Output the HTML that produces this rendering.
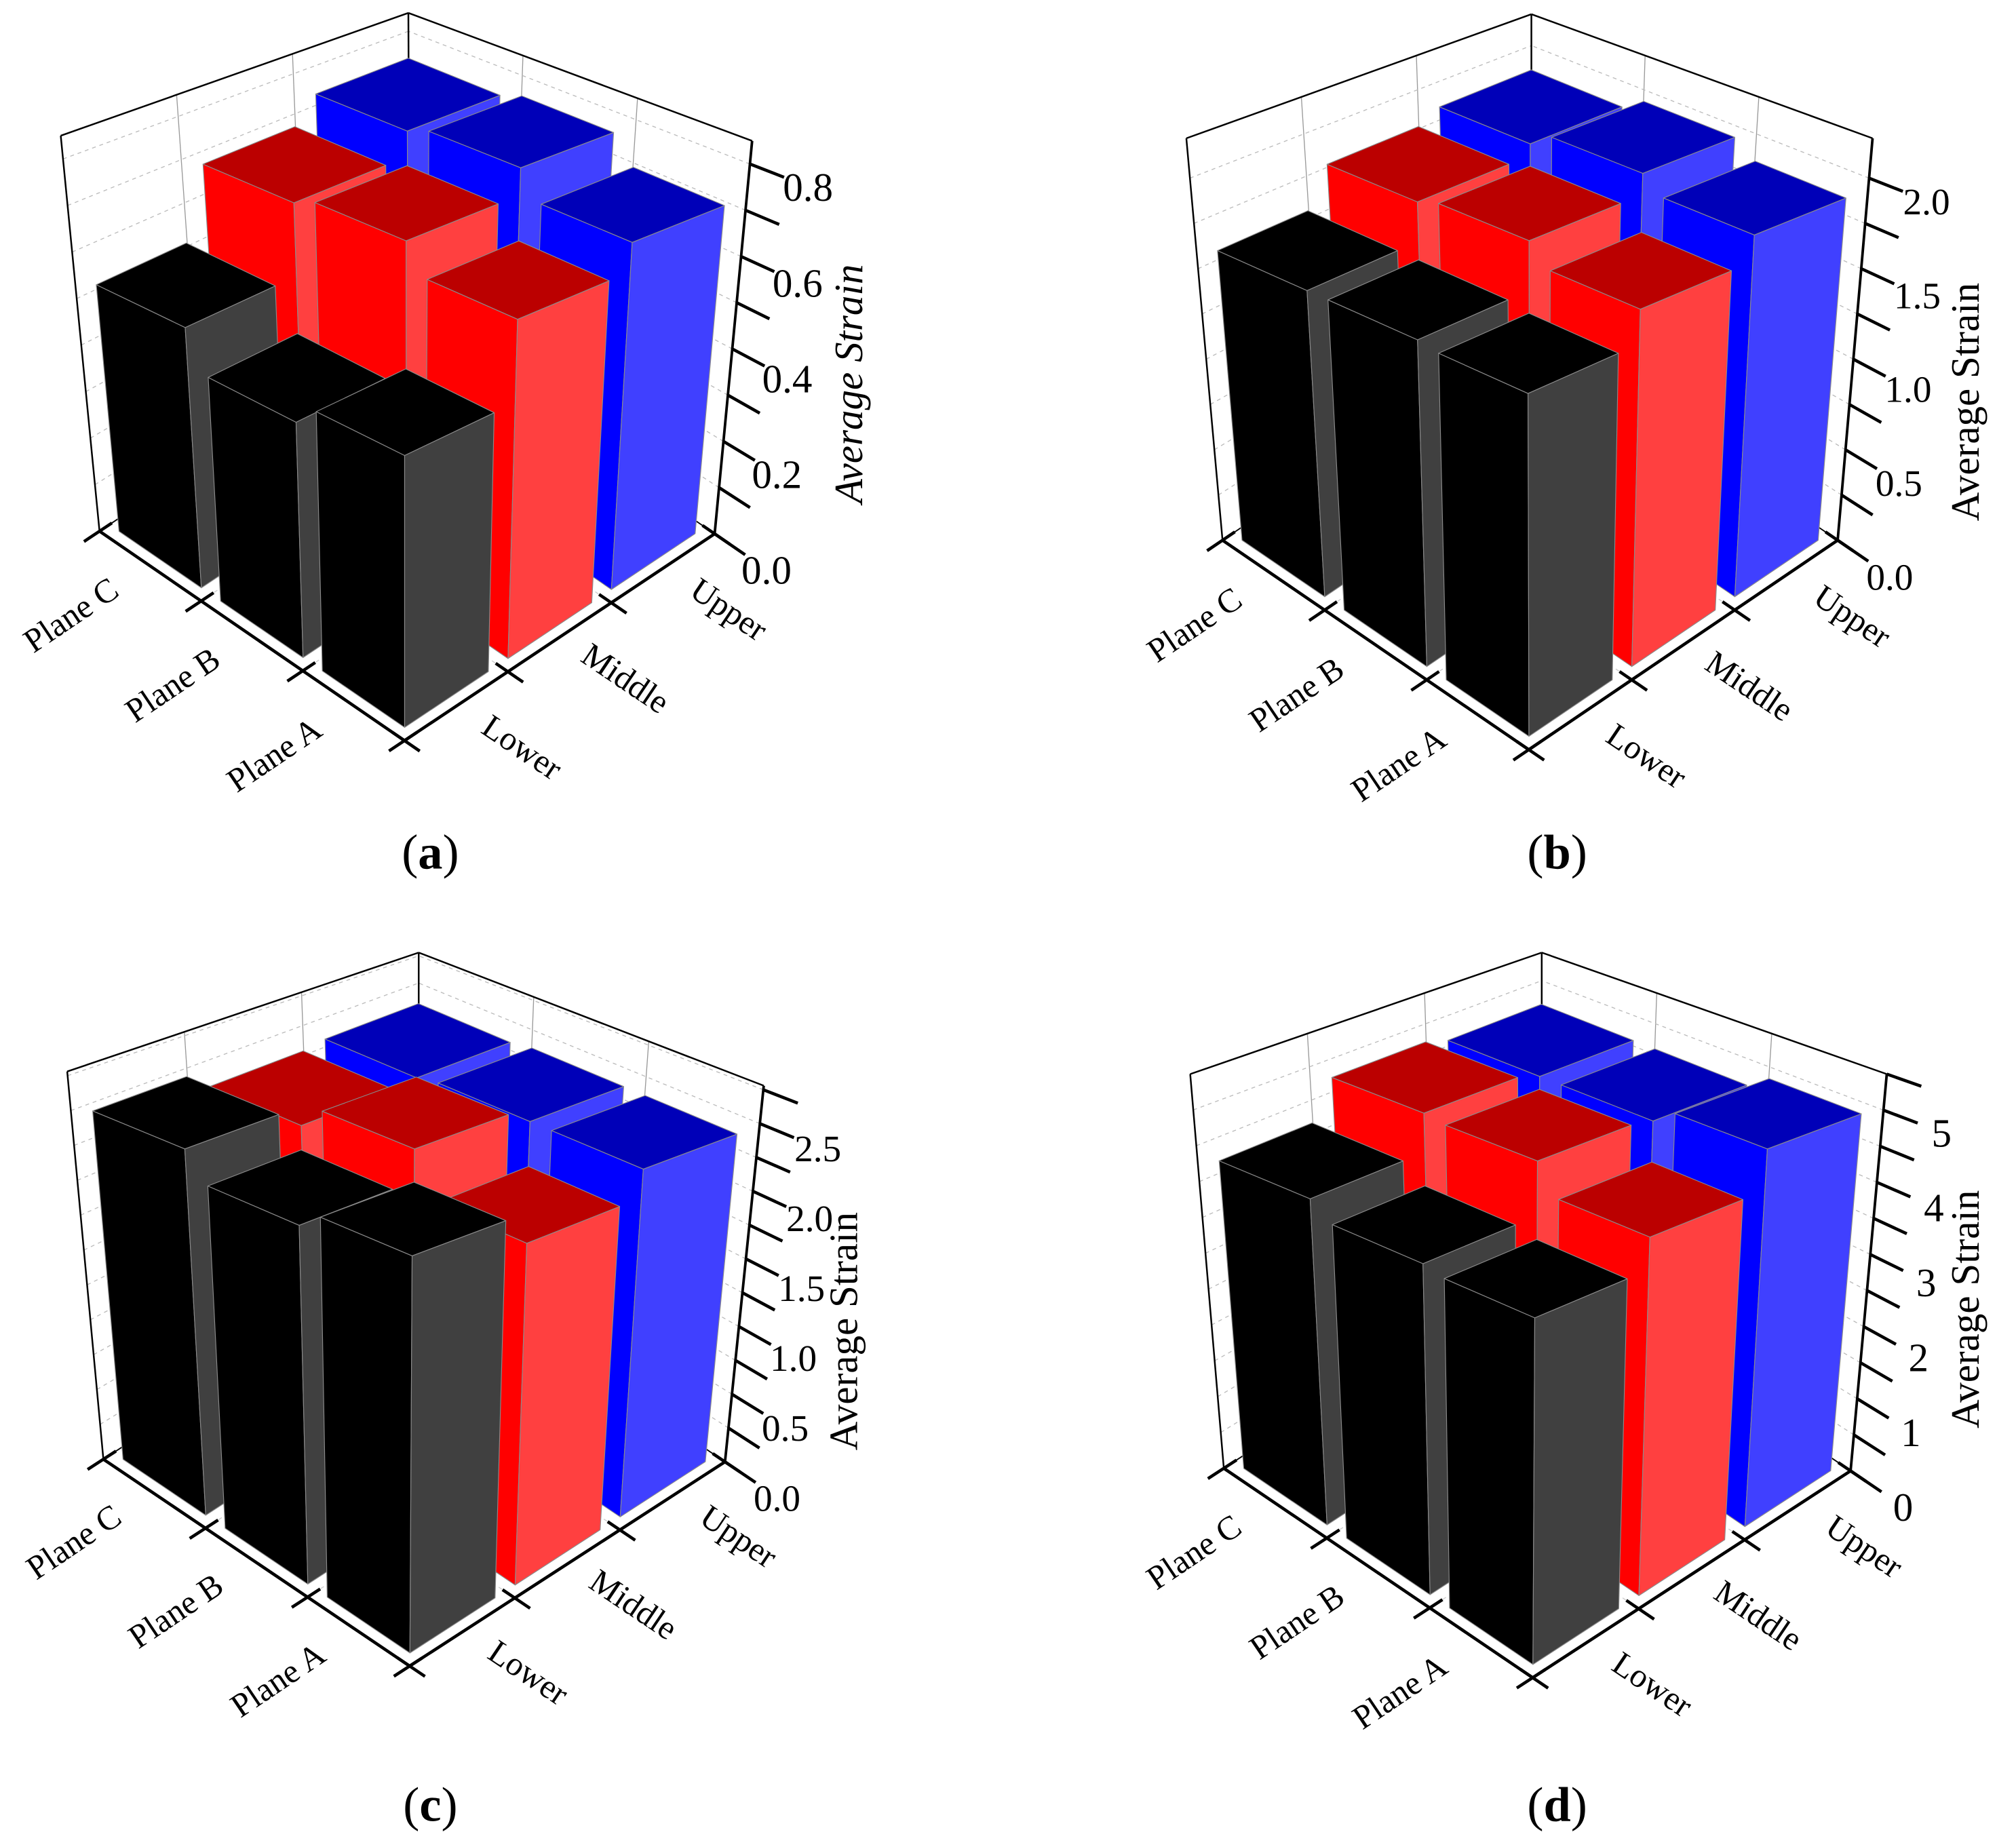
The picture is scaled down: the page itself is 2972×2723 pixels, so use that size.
<!DOCTYPE html>
<html><head><meta charset="utf-8"><style>
html,body{margin:0;padding:0;background:#fff;}
svg{display:block;}
text{font-family:"Liberation Serif",serif;}
</style></head><body>
<svg id="fig" xmlns="http://www.w3.org/2000/svg" width="2972" height="2723" viewBox="0 0 1560 1429" preserveAspectRatio="none">
<rect width="1560" height="1429" fill="#fff"/>
</svg>
<script>
// ---- data ----
const planes = ["Plane A", "Plane B", "Plane C"];
const positions = ["Lower", "Middle", "Upper"];
const panelIds = ["a", "b", "c", "d"];
const valuesA_Lower = [0.49, 0.45, 0.53];
const valuesA_Middle = [0.65, 0.71, 0.69];
const valuesA_Upper = [0.71, 0.77, 0.75];
const valuesB_Lower = [1.58, 1.60, 1.60];
const valuesB_Middle = [1.75, 1.86, 1.82];
const valuesB_Upper = [1.89, 1.98, 1.89];
const valuesC_Lower = [2.42, 2.31, 2.50];
const valuesC_Middle = [2.22, 2.53, 2.36];
const valuesC_Upper = [2.42, 2.42, 2.39];
const valuesD_Lower = [4.00, 4.07, 4.29];
const valuesD_Middle = [4.40, 4.79, 4.84];
const valuesD_Upper = [4.95, 4.73, 4.73];
const zMaxes = [0.85, 2.22, 2.78, 5.5];
const tickStepsA = [0, 0.1, 0.2, 0.3, 0.4, 0.5, 0.6, 0.7, 0.8];
const tickLabelsA = ["0.0", "0.2", "0.4", "0.6", "0.8"];
const tickStepsB = [0, 0.25, 0.5, 0.75, 1.0, 1.25, 1.5, 1.75, 2.0];
const tickLabelsB = ["0.0", "0.5", "1.0", "1.5", "2.0"];
const tickStepsC = [0, 0.25, 0.5, 0.75, 1.0, 1.25, 1.5, 1.75, 2.0, 2.25, 2.5, 2.75];
const tickLabelsC = ["0.0", "0.5", "1.0", "1.5", "2.0", "2.5"];
const tickStepsD = [0, 0.5, 1, 1.5, 2, 2.5, 3, 3.5, 4, 4.5, 5, 5.5];
const tickLabelsD = ["0", "1", "2", "3", "4", "5"];

// ---- layout (not data) ----
const geom = [
  {F:[313,573],L:[77,411],R:[553,413],BT:[316,10],LT:[47,105],RT:[582,109],title:[660,297],cap:[333,663],italic:true,sans:false},
  {F:[1183,580],L:[946,418],R:[1422,418],BT:[1185,11],LT:[918,107],RT:[1449,107],title:[1524,311],cap:[1205,663],italic:false,sans:true},
  {F:[317,1289],L:[80,1129],R:[561,1131],BT:[324,737],LT:[52,829],RT:[591,840],title:[656,1030],cap:[333,1400],italic:false,sans:true},
  {F:[1186,1298],L:[947,1136],R:[1432,1138],BT:[1193,737],LT:[921,831],RT:[1460,831],title:[1524,1013],cap:[1205,1400],italic:false,sans:false}
];
const allValues = [[valuesA_Lower,valuesA_Middle,valuesA_Upper],[valuesB_Lower,valuesB_Middle,valuesB_Upper],[valuesC_Lower,valuesC_Middle,valuesC_Upper],[valuesD_Lower,valuesD_Middle,valuesD_Upper]];
const allTicks = [tickStepsA,tickStepsB,tickStepsC,tickStepsD];
const allLabels = [tickLabelsA,tickLabelsB,tickLabelsC,tickLabelsD];
const colors = [
  {left:"#000000",right:"#404040",top:"#000000"},
  {left:"#ff0000",right:"#ff4040",top:"#bb0000"},
  {left:"#0000ff",right:"#4040ff",top:"#0000b8"}
];
const NS = "http://www.w3.org/2000/svg";
const svg = document.getElementById("fig");
function mk(tag, attrs, parent){ const e=document.createElementNS(NS,tag); for(const k in attrs) e.setAttribute(k,attrs[k]); (parent||svg).appendChild(e); return e; }

panelIds.forEach((pid, p) => {
  const G = geom[p];
  const FT = [G.LT[0]+G.RT[0]-G.BT[0], G.LT[1]+G.RT[1]-G.BT[1]];
  const zmax = zMaxes[p];
  function proj(x,y,z){
    const fx = G.F[0]+x*(G.L[0]-G.F[0])+y*(G.R[0]-G.F[0]);
    const fy = G.F[1]+x*(G.L[1]-G.F[1])+y*(G.R[1]-G.F[1]);
    const tx = FT[0]+x*(G.LT[0]-FT[0])+y*(G.RT[0]-FT[0]);
    const ty = FT[1]+x*(G.LT[1]-FT[1])+y*(G.RT[1]-FT[1]);
    return [fx+z*(tx-fx), fy+z*(ty-fy)];
  }
  const zs = v => v / zmax;
  const g = mk("g", {});
  
  
  const line = (a,b,st,w,dash,parent) => mk("line",{x1:a[0],y1:a[1],x2:b[0],y2:b[1],stroke:st,"stroke-width":w,"stroke-dasharray":dash||"none"},parent||g);

  const grid = mk("g",{},g);
  
  
  [1/3,2/3].forEach(t=>{
    line(proj(1,t,0),proj(1,t,1),"#999",0.7,null,grid);
    line(proj(t,1,0),proj(t,1,1),"#999",0.7,null,grid);
    line(proj(t,0,0),proj(t,1,0),"#ccc",0.7,"3,3",grid);
    line(proj(0,t,0),proj(1,t,0),"#ccc",0.7,"3,3",grid);
  });
  allTicks[p].forEach(v=>{
    if(v===0) return;
    line(proj(1,0,zs(v)),proj(1,1,zs(v)),"#bbb",0.7,"3,3",grid);
    line(proj(0,1,zs(v)),proj(1,1,zs(v)),"#bbb",0.7,"3,3",grid);
  });
  const box = mk("g",{},g);
  
  
  line(proj(1,0,0),proj(1,1,0),"#000",1,null,box);
  line(proj(0,1,0),proj(1,1,0),"#000",1,null,box);
  line(proj(1,0,0),proj(1,0,1),"#000",1.3,null,box);
  line(proj(1,1,0),proj(1,1,1),"#000",1.3,null,box);
  line(proj(1,0,1),proj(1,1,1),"#000",1.3,null,box);
  line(proj(1,1,1),proj(0,1,1),"#000",1.3,null,box);

  const cells=[];
  for(let j=0;j<3;j++) for(let i=0;i<3;i++) cells.push([i,j]);
  cells.sort((a,b)=>(b[0]+b[1])-(a[0]+a[1]));
  const hw=0.135;
  cells.forEach(([i,j])=>{
    const v = allValues[p][j][i];
    const h = zs(v);
    const cx=(i+0.5)/3, cy=(j+0.5)/3;
    const x0=cx-hw,x1=cx+hw,y0=cy-hw,y1=cy+hw;
    const bar = mk("g",{},g);
    
    
    const poly=(pts,fill)=>mk("polygon",{points:pts.map(q=>q[0].toFixed(1)+","+q[1].toFixed(1)).join(" "),fill:fill,stroke:"#8a8a8a","stroke-width":0.6,"stroke-linejoin":"round"},bar);
    poly([proj(x0,y0,0),proj(x1,y0,0),proj(x1,y0,h),proj(x0,y0,h)],colors[j].left);
    poly([proj(x0,y0,0),proj(x0,y1,0),proj(x0,y1,h),proj(x0,y0,h)],colors[j].right);
    poly([proj(x0,y0,h),proj(x1,y0,h),proj(x1,y1,h),proj(x0,y1,h)],colors[j].top);
  });

  const ax = mk("g",{},g);
  
  
  line(proj(0,0,0),proj(1,0,0),"#000",2.4,null,ax);
  [0,1/3,2/3,1].forEach(t=>line(proj(t,-0.05,0),proj(t,0.04,0),"#000",2.4,null,ax));
  const ax2 = mk("g",{},g);
  
  
  line(proj(0,0,0),proj(0,1,0),"#000",2.4,null,ax2);
  [0,1/3,2/3,1].forEach(t=>line(proj(-0.05,t,0),proj(0.04,t,0),"#000",2.4,null,ax2));
  const fam = '"Liberation Serif", serif';
  planes.forEach((nm,i)=>{
    const q=proj((i+0.5)/3,-0.25,0);
    const t=mk("text",{x:q[0],y:q[1],"font-size":26,"text-anchor":"middle","dominant-baseline":"middle",transform:`rotate(-34 ${q[0]} ${q[1]})`,"font-family":fam},ax);
    t.textContent=nm;
    
    
  });
  positions.forEach((nm,j)=>{
    const q=proj(-0.21,(j+0.5)/3,0);
    const t=mk("text",{x:q[0],y:q[1],"font-size":26,"text-anchor":"middle","dominant-baseline":"middle",transform:`rotate(34 ${q[0]} ${q[1]})`,"font-family":fam},ax2);
    t.textContent=nm;
    
    
  });

  const za = mk("g",{},g);
  
  
  line(proj(0,1,0),proj(0,1,1),"#000",2,null,za);
  allTicks[p].forEach(v=>line(proj(0,1,zs(v)),proj(-0.1,1,zs(v)),"#000",2.4,null,za));
  const tfam = G.sans ? '"Liberation Sans", sans-serif' : '"Liberation Serif", serif';
  allLabels[p].forEach(s=>{
    const v=parseFloat(s);
    const q=proj(-0.17,1,zs(v));
    const t=mk("text",{x:q[0],y:q[1]+4,"font-size":G.sans?29:31,"text-anchor":"middle","dominant-baseline":"middle","font-family":tfam},za);
    t.textContent=s;
    
    
  });
  const tt=mk("text",{x:G.title[0],y:G.title[1],"font-size":31,"text-anchor":"middle","dominant-baseline":"middle",transform:`rotate(-90 ${G.title[0]} ${G.title[1]})`,"font-style":G.italic?"italic":"normal","font-family":fam},g);
  tt.textContent="Average Strain";
  
  

  const cap=mk("text",{x:G.cap[0],y:G.cap[1],"font-size":38,"text-anchor":"middle","dominant-baseline":"middle","font-family":fam},g);
  cap.innerHTML='(<tspan font-weight="bold">'+pid+'</tspan>)';
  
  
});
</script>
</body></html>
